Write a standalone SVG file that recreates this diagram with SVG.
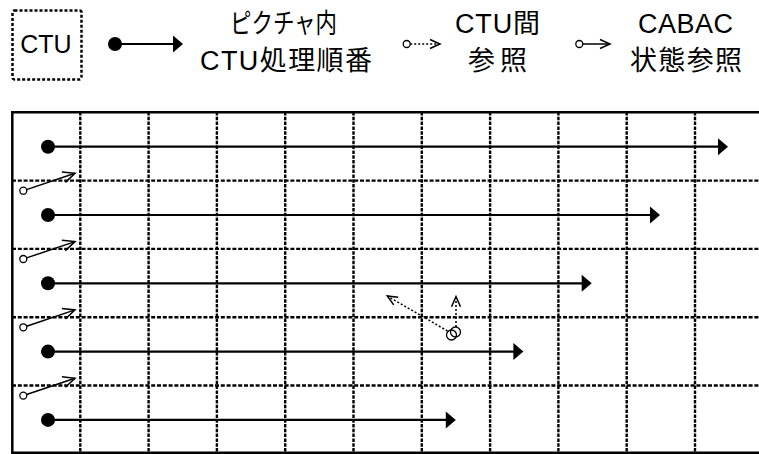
<svg xmlns="http://www.w3.org/2000/svg" width="759" height="454" viewBox="0 0 759 454">
<style>
.txt{font-family:"Liberation Sans","Noto Sans CJK JP",sans-serif;font-size:27px;fill:#000;text-anchor:middle}
.frame{stroke:#000;stroke-width:2.5;fill:none}
.vgrid{stroke:#000;stroke-width:2.4;stroke-dasharray:3.5 1.3;fill:none}
.hgrid{stroke:#000;stroke-width:2.4;stroke-dasharray:4 1.8;fill:none}
.order{stroke:#000;stroke-width:2.2;fill:none;marker-end:url(#solidHead)}
.dot{fill:#000}
.cabac{stroke:#000;stroke-width:1.5;fill:none;marker-end:url(#openHead)}
.ref{stroke:#000;stroke-width:1.5;stroke-dasharray:2 2;fill:none;marker-end:url(#openSmall)}
.ring{fill:#fff;stroke:#000;stroke-width:1.3}
</style>
<defs>
<marker id="solidHead" markerUnits="userSpaceOnUse" orient="auto" refX="2" refY="0" markerWidth="20" markerHeight="20" overflow="visible">
<path d="M0,-8.5 L10,0 L0,8.5 Z" fill="#000"/>
</marker>
<marker id="openHead" markerUnits="userSpaceOnUse" orient="auto" refX="0" refY="0" markerWidth="20" markerHeight="20" overflow="visible">
<path d="M-12,-5.5 L0,0 L-12,5.5" fill="none" stroke="#000" stroke-width="1.5"/>
</marker>
<marker id="openSmall" markerUnits="userSpaceOnUse" orient="auto" refX="0" refY="0" markerWidth="20" markerHeight="20" overflow="visible">
<path d="M-10,-4.5 L0,0 L-10,4.5" fill="none" stroke="#000" stroke-width="1.5"/>
</marker>
</defs>
<rect width="759" height="454" fill="#fff"/>

<g id="legend">
<g id="legend-ctu">
<rect x="12.5" y="10.5" width="69" height="69" rx="2" fill="none" stroke="#000" stroke-width="2.5" stroke-dasharray="3 2"/>
<text class="txt" x="46" y="53" style="font-size:25px">CTU</text>
</g>
<g id="legend-order">
<circle class="dot" cx="115" cy="44" r="7"/>
<line class="order" x1="115" y1="44" x2="175" y2="44"/>
<text class="txt" x="283.5" y="33" textLength="107" lengthAdjust="spacingAndGlyphs">ピクチャ内</text>
<text class="txt" x="286" y="70" textLength="172" lengthAdjust="spacing">CTU処理順番</text>
</g>
<g id="legend-ref">
<circle class="ring" cx="406.7" cy="44" r="3.5"/>
<line class="ref" x1="410.2" y1="44" x2="440" y2="44"/>
<text class="txt" x="497.5" y="33" textLength="85" lengthAdjust="spacing">CTU間</text>
<text class="txt" x="497.5" y="70" textLength="59" lengthAdjust="spacing">参照</text>
</g>
<g id="legend-cabac">
<circle class="ring" cx="579.3" cy="44" r="3.5"/>
<line class="cabac" x1="582.8" y1="44" x2="610" y2="44" style="marker-end:url(#openSmall)"/>
<text class="txt" x="685.5" y="33" textLength="95" lengthAdjust="spacing">CABAC</text>
<text class="txt" x="686" y="70" textLength="112" lengthAdjust="spacing">状態参照</text>
</g>
</g>

<g id="grid">
<line class="vgrid" x1="80.3" y1="112" x2="80.3" y2="453"/>
<line class="vgrid" x1="148.6" y1="112" x2="148.6" y2="453"/>
<line class="vgrid" x1="216.9" y1="112" x2="216.9" y2="453"/>
<line class="vgrid" x1="285.2" y1="112" x2="285.2" y2="453"/>
<line class="vgrid" x1="353.5" y1="112" x2="353.5" y2="453"/>
<line class="vgrid" x1="421.8" y1="112" x2="421.8" y2="453"/>
<line class="vgrid" x1="490.1" y1="112" x2="490.1" y2="453"/>
<line class="vgrid" x1="558.4" y1="112" x2="558.4" y2="453"/>
<line class="vgrid" x1="626.7" y1="112" x2="626.7" y2="453"/>
<line class="vgrid" x1="695" y1="112" x2="695" y2="453"/>
<line class="hgrid" x1="12" y1="180.6" x2="759" y2="180.6"/>
<line class="hgrid" x1="12" y1="248.9" x2="759" y2="248.9"/>
<line class="hgrid" x1="12" y1="317.2" x2="759" y2="317.2"/>
<line class="hgrid" x1="12" y1="385.5" x2="759" y2="385.5"/>
<path class="frame" d="M759,112.3 H12.3 V452.7 H759"/>
</g>

<g id="connectors">
<g id="ctu-order">
<circle class="dot" cx="48" cy="146.7" r="7"/>
<line class="order" x1="48" y1="146.7" x2="720" y2="146.7"/>
<circle class="dot" cx="48" cy="215" r="7"/>
<line class="order" x1="48" y1="215" x2="652" y2="215"/>
<circle class="dot" cx="48" cy="283.3" r="7"/>
<line class="order" x1="48" y1="283.3" x2="583.7" y2="283.3"/>
<circle class="dot" cx="48" cy="351.6" r="7"/>
<line class="order" x1="48" y1="351.6" x2="515.4" y2="351.6"/>
<circle class="dot" cx="48" cy="419.9" r="7"/>
<line class="order" x1="48" y1="419.9" x2="447.8" y2="419.9"/>
</g>
<g id="cabac-refs">
<circle class="ring" cx="23.3" cy="190.7" r="3.5"/>
<line class="cabac" x1="26.6" y1="189.6" x2="75" y2="173.3"/>
<circle class="ring" cx="23.3" cy="259" r="3.5"/>
<line class="cabac" x1="26.6" y1="257.9" x2="75" y2="241.6"/>
<circle class="ring" cx="23.3" cy="327.3" r="3.5"/>
<line class="cabac" x1="26.6" y1="326.2" x2="75" y2="309.9"/>
<circle class="ring" cx="23.3" cy="395.6" r="3.5"/>
<line class="cabac" x1="26.6" y1="394.5" x2="75" y2="378.2"/>
</g>
<g id="ctu-refs">
<line class="ref" x1="447.5" y1="331" x2="387.3" y2="296"/>
<line class="ref" x1="456" y1="327" x2="456" y2="296.7"/>
<circle cx="451.5" cy="335" r="5" fill="none" stroke="#000" stroke-width="1.3"/>
<circle cx="455.5" cy="332" r="5" fill="none" stroke="#000" stroke-width="1.3"/>
</g>
</g>
</svg>
